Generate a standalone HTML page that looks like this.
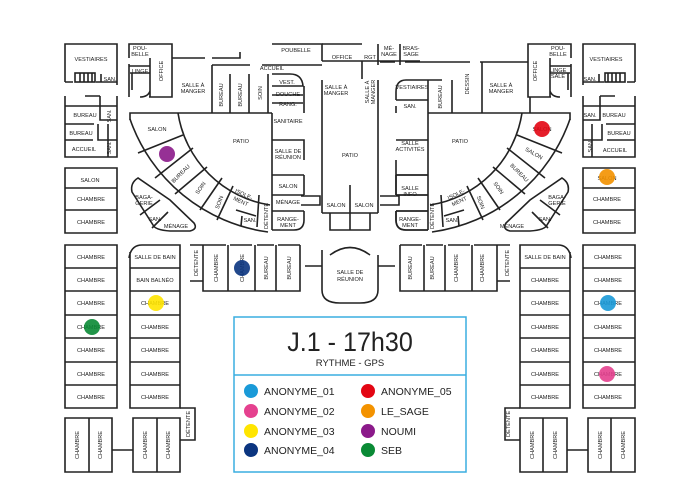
<!DOCTYPE html>
<html><head><meta charset="utf-8"><style>
html,body{margin:0;padding:0;background:#fff;}
svg{display:block}
text{font-family:"Liberation Sans",sans-serif;fill:#222;}
.t{font-size:5.6px;text-anchor:middle;}
.w{stroke:#222;stroke-width:1.6;fill:none;}
</style></head><body>
<svg width="700" height="500" viewBox="0 0 700 500" xmlns="http://www.w3.org/2000/svg">
<rect width="700" height="500" fill="#fff"/>
<defs>
<g id="wing">
 <path class="w" d="M65 74 V44 H117 V85 M65 82 V74 M65 82 H73 M96 82 H117"/>
 <rect x="75" y="73" width="20" height="9" class="w" stroke-width="1"/>
 <path class="w" d="M80 73V82M84 73V82M88 73V82M92 73V82" stroke-width="0.8"/>
 <path class="w" d="M101 74 V82"/>
 <path class="w" d="M65 96 V157 H117 V96 M65 106 H117 M100 96 V120 H117 M65 124 H94 M98 124 V140 H117 M65 140 H93 M108 124V157 M85 96H100"/>
 <path class="w" d="M129 58 V44 H172 V97 H149 M129 64 V97 M130 73 H150 V91 Q148 97 140 97 M150 58 V97 M129 66H150 M132 73V90"/>
 <path class="w" d="M272 113 H130 V120"/>
 <path class="w" d="M272 175 V230 M272 175 H304 M272 195 H304 M272 211 H304 M304 211 V220 Q304 230 294 230 H272 M304 175V195"/>
 <path class="w" d="M178 113 A110 110 0 0 0 270 205"/>
 <path class="w" d="M130 119 A170 170 0 0 0 268 232"/>
 <path class="w" d="M138 153 L183 135 M155 178 L193 148 M175 194 L207 167 M200 210 L222 178 M217 220 L233 186 M257 227 L259 195 M236 210 L256 216 M242 216 L241 226"/>
 <path class="w" d="M138 178 Q130 183 132 192 L153 225 Q155 230 170 231 H190 Q198 229 194 223 L170 200 Z M140 215 L160 200 M152 228 L168 212"/>
 <path class="w" d="M65 168 H117 V233 H65 Z M65 188 H117 M65 210 H117"/>
 <path class="w" d="M65 245 H117 V408 H65 Z M65 268 H117 M65 291 H117 M65 315 H117 M65 338 H117 M65 362 H117 M65 385 H117"/>
 <path class="w" d="M129 258 Q131 245 142 245 H180 V408 H130 V252 M130 268 H180 M130 291 H180 M130 315 H180 M130 338 H180 M130 362 H180 M130 385 H180"/>
 <path class="w" d="M65 418 H112 V472 H65 Z M89 418 V472 M112 450 H133 M133 418 H180 V472 H133 Z M157 418 V472 M180 408 H195 V440 H180"/>
 <path class="w" d="M190 245 H203 M190 281 H203 M203 245 V291 H300 V245 M228 245 V291 M255 245 V291 M276 245 V291 M203 245 H226 M230 245 H252 M257 245 H274 M278 245 H300"/>
</g>
</defs>
<use href="#wing"/>
<use href="#wing" transform="translate(700,0) scale(-1,1)"/>
<!-- left central top -->
<path class="w" d="M172 58 H205 M212 58 H240 V52 M212 65 V113 M212 65 H250 M262 65 H322 M230 74 V113 M249 74V113 M268 74V113 M272 74 H290 Q302 74 303 86 H272 M272 95 H303 M272 103 H303"/>
<path class="w" d="M272 44 H322 V61 M304 86 V113 M272 113 V175 M272 140 H304 V160"/>
<!-- right central top -->
<path class="w" d="M380 62 H395 M405 62 H470 M480 62 H528 M428 113 V80 H406 Q396 80 396 92 V100 M396 100 H428 M396 106 V113 M452 80 V113 M428 80 H442 M482 62 V113 M530 97 V113"/>
<path class="w" d="M428 113 V175 M396 140 H428 M396 160 V175 M396 175 H428 M396 195 H428 M396 211 H428 M396 211 V220 Q396 230 406 230 H428 M396 175V195"/>
<!-- center -->
<path class="w" d="M322 44 H362 M322 61 H362 V79 M378 44 V65 M400 44 V65 M362 61 H420 M322 80 V213 M378 80 V213 M322 213 H378 M350 185 V230 M330 213 V230 H370 V213"/>
<path class="w" d="M322 250 V290 Q322 303 340 303 H360 Q378 303 378 290 V255 M305 266 H322 M378 266 H395 M330 255 Q350 240 370 255"/>
<path class="w" d="M301 196 H320 V205 H301 M380 196 H399 V205 H380" stroke-width="1"/>
<g class="t">
<text x="91" y="61">VESTIAIRES</text><text x="110" y="81">SAN.</text>
<text x="140" y="50">POU-</text><text x="140" y="56">BELLE</text><text x="140" y="73">LINGE</text>
<text x="85" y="117">BUREAU</text><text x="81" y="135">BUREAU</text><text x="84" y="151">ACCUEIL</text>
<text x="193" y="87">SALLE À</text><text x="193" y="93">MANGER</text>
<text x="272" y="70">ACCUEIL</text><text x="296" y="52">POUBELLE</text><text x="342" y="59">OFFICE</text>
<text x="370" y="59">RGT</text><text x="389" y="50">MÉ-</text><text x="389" y="56">NAGE</text>
<text x="411" y="50">BRAS-</text><text x="411" y="56">SAGE</text>
<text x="287" y="84">VEST.</text><text x="288" y="96">DOUCHE</text><text x="288" y="106">RANG.</text>
<text x="288" y="123">SANITAIRE</text><text x="288" y="153">SALLE DE</text><text x="288" y="159">RÉUNION</text>
<text x="288" y="188">SALON</text><text x="288" y="204">MÉNAGE</text><text x="288" y="221">RANGE-</text><text x="288" y="227">MENT</text>
<text x="157" y="131">SALON</text><text x="241" y="143">PATIO</text><text x="350" y="157">PATIO</text><text x="460" y="143">PATIO</text>
<text x="336" y="89">SALLE À</text><text x="336" y="95">MANGER</text>
<text x="144" y="199">BAGA-</text><text x="144" y="205">GERIE</text><text x="155" y="221">SAN.</text><text x="176" y="228">MÉNAGE</text>
<text x="90" y="182">SALON</text><text x="91" y="201">CHAMBRE</text><text x="91" y="224">CHAMBRE</text>
<text x="336" y="207">SALON</text><text x="364" y="207">SALON</text>
<text x="350" y="274">SALLE DE</text><text x="350" y="281">RÉUNION</text>
<text x="412" y="89">VESTIAIRES</text><text x="410" y="108">SAN.</text>
<text x="501" y="87">SALLE À</text><text x="501" y="93">MANGER</text>
<text x="558" y="50">POU-</text><text x="558" y="56">BELLE</text><text x="558" y="72">LINGE</text><text x="558" y="78">SALE</text>
<text x="606" y="61">VESTIAIRES</text><text x="590" y="81">SAN.</text>
<text x="614" y="117">BUREAU</text><text x="619" y="135">BUREAU</text><text x="615" y="152">ACCUEIL</text>
<text x="590" y="117">SAN.</text>
<text x="410" y="145">SALLE</text><text x="410" y="151">ACTIVITÉS</text>
<text x="410" y="190">SALLE</text><text x="410" y="196">INFO</text>
<text x="410" y="221">RANGE-</text><text x="410" y="227">MENT</text>
<text x="557" y="199">BAGA-</text><text x="557" y="205">GERIE</text><text x="545" y="221">SAN.</text><text x="512" y="228">MÉNAGE</text>
<text x="542" y="131">SALON</text>
<text x="607" y="180">SALON</text><text x="607" y="201">CHAMBRE</text><text x="607" y="224">CHAMBRE</text>
<text x="155" y="259">SALLE DE BAIN</text><text x="155" y="282">BAIN BALNÉO</text>
<text x="545" y="259">SALLE DE BAIN</text>
<text x="91" y="259">CHAMBRE</text><text x="91" y="282">CHAMBRE</text><text x="91" y="305">CHAMBRE</text><text x="91" y="329">CHAMBRE</text><text x="91" y="352">CHAMBRE</text><text x="91" y="376">CHAMBRE</text><text x="91" y="399">CHAMBRE</text>
<text x="155" y="305">CHAMBRE</text><text x="155" y="329">CHAMBRE</text><text x="155" y="352">CHAMBRE</text><text x="155" y="376">CHAMBRE</text><text x="155" y="399">CHAMBRE</text>
<text x="545" y="282">CHAMBRE</text><text x="545" y="305">CHAMBRE</text><text x="545" y="329">CHAMBRE</text><text x="545" y="352">CHAMBRE</text><text x="545" y="376">CHAMBRE</text><text x="545" y="399">CHAMBRE</text>
<text x="608" y="259">CHAMBRE</text><text x="608" y="282">CHAMBRE</text><text x="608" y="305">CHAMBRE</text><text x="608" y="329">CHAMBRE</text><text x="608" y="352">CHAMBRE</text><text x="608" y="376">CHAMBRE</text><text x="608" y="399">CHAMBRE</text>
</g>
<g class="t">
<text transform="translate(163,71) rotate(-90)">OFFICE</text>
<text transform="translate(223,95) rotate(-90)">BUREAU</text>
<text transform="translate(242,95) rotate(-90)">BUREAU</text>
<text transform="translate(262,93) rotate(-90)">SOIN</text>
<text transform="translate(111,116) rotate(-90)">SAN.</text>
<text transform="translate(111,148) rotate(-90)">SAN.</text>
<text transform="translate(369,92) rotate(-90)">SALLE À</text>
<text transform="translate(375,92) rotate(-90)">MANGER</text>
<text transform="translate(442,97) rotate(-90)">BUREAU</text>
<text transform="translate(469,84) rotate(-90)">DESSIN</text>
<text transform="translate(537,71) rotate(-90)">OFFICE</text>
<text transform="translate(592,146) rotate(-90)">SAN.</text>
<text transform="translate(268,216) rotate(-90)">DÉTENTE</text>
<text transform="translate(434,216) rotate(-90)">DÉTENTE</text>
<text transform="translate(198,263) rotate(-90)">DÉTENTE</text>
<text transform="translate(218,268) rotate(-90)">CHAMBRE</text>
<text transform="translate(244,268) rotate(-90)">CHAMBRE</text>
<text transform="translate(268,268) rotate(-90)">BUREAU</text>
<text transform="translate(291,268) rotate(-90)">BUREAU</text>
<text transform="translate(412,268) rotate(-90)">BUREAU</text>
<text transform="translate(434,268) rotate(-90)">BUREAU</text>
<text transform="translate(458,268) rotate(-90)">CHAMBRE</text>
<text transform="translate(484,268) rotate(-90)">CHAMBRE</text>
<text transform="translate(509,263) rotate(-90)">DÉTENTE</text>
<text transform="translate(79,445) rotate(-90)">CHAMBRE</text>
<text transform="translate(102,445) rotate(-90)">CHAMBRE</text>
<text transform="translate(147,445) rotate(-90)">CHAMBRE</text>
<text transform="translate(170,445) rotate(-90)">CHAMBRE</text>
<text transform="translate(190,424) rotate(-90)">DÉTENTE</text>
<text transform="translate(510,424) rotate(-90)">DÉTENTE</text>
<text transform="translate(534,445) rotate(-90)">CHAMBRE</text>
<text transform="translate(557,445) rotate(-90)">CHAMBRE</text>
<text transform="translate(602,445) rotate(-90)">CHAMBRE</text>
<text transform="translate(625,445) rotate(-90)">CHAMBRE</text>
<text transform="translate(182,175) rotate(-45)">BUREAU</text>
<text transform="translate(202,189) rotate(-55)">SOIN</text>
<text transform="translate(221,203) rotate(-70)">SOIN</text>
<text transform="translate(243,196) rotate(25)">ISOLE-</text>
<text transform="translate(240,203) rotate(25)">MENT</text>
<text transform="translate(250,222)">SAN.</text>
<text transform="translate(533,155) rotate(30)">SALON</text>
<text transform="translate(518,174) rotate(45)">BUREAU</text>
<text transform="translate(497,189) rotate(55)">SOIN</text>
<text transform="translate(479,203) rotate(70)">SOIN</text>
<text transform="translate(457,196) rotate(-25)">ISOLE-</text>
<text transform="translate(460,203) rotate(-25)">MENT</text>
<text transform="translate(452,222)">SAN.</text>
</g>
<g opacity="0.9">
<circle cx="167" cy="154" r="8" fill="#8b1a8a"/>
<circle cx="542" cy="129" r="8" fill="#e30613"/>
<circle cx="607" cy="177" r="8" fill="#f39200"/>
<circle cx="242" cy="268" r="8" fill="#0b3580"/>
<circle cx="156" cy="303" r="8" fill="#ffe500"/>
<circle cx="92" cy="327" r="8" fill="#0a8a35"/>
<circle cx="608" cy="303" r="8" fill="#1a9ad8"/>
<circle cx="607" cy="374" r="8" fill="#e5418f"/>
</g>
<rect x="234" y="317" width="232" height="155" fill="#fff" stroke="#3aaee0" stroke-width="1.5"/>
<line x1="234" y1="375" x2="466" y2="375" stroke="#3aaee0" stroke-width="1.5"/>
<text x="350" y="351" font-size="27" text-anchor="middle" fill="#111" transform="translate(350,0) scale(0.93,1) translate(-350,0)">J.1 - 17h30</text>
<text x="350" y="366" font-size="9.5" text-anchor="middle" fill="#111">RYTHME - GPS</text>
<g font-size="10.5">
<circle cx="251" cy="391" r="7" fill="#1a9ad8"/><text x="264" y="395">ANONYME_01</text>
<circle cx="251" cy="411" r="7" fill="#e5418f"/><text x="264" y="415">ANONYME_02</text>
<circle cx="251" cy="431" r="7" fill="#ffe500"/><text x="264" y="435">ANONYME_03</text>
<circle cx="251" cy="450" r="7" fill="#0b3580"/><text x="264" y="454">ANONYME_04</text>
<circle cx="368" cy="391" r="7" fill="#e30613"/><text x="381" y="395">ANONYME_05</text>
<circle cx="368" cy="411" r="7" fill="#f39200"/><text x="381" y="415">LE_SAGE</text>
<circle cx="368" cy="431" r="7" fill="#8b1a8a"/><text x="381" y="435">NOUMI</text>
<circle cx="368" cy="450" r="7" fill="#0a8a35"/><text x="381" y="454">SEB</text>
</g>
</svg>
</body></html>
